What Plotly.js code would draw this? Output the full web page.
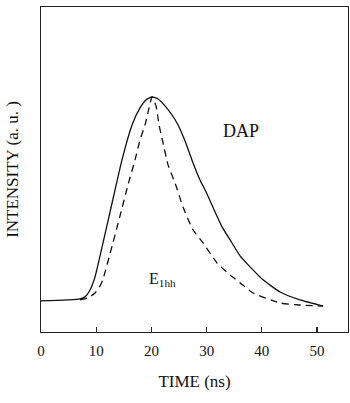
<!DOCTYPE html>
<html>
<head>
<meta charset="utf-8">
<script src="https://cdn.plot.ly/plotly-3.0.1.min.js"></script>
<style>html,body{margin:0;padding:0;background:#fff;}#chart{width:350px;height:403px;}</style>
</head>
<body>
<div id="chart"></div>
<script>
// DAP (solid) curve
const dapTime = [0, 7.07, 7.97, 8.88, 9.78, 10.69, 12.50, 14.67, 16.49, 17.93, 19.02, 20.11, 21.20, 22.46, 23.73, 24.82, 26.09, 27.54, 28.80, 30.07, 31.52, 32.79, 34.24, 36.05, 37.86, 40.22, 43.30, 46.92, 51.09];
const dapIntensity = [-0.005, 0.005, 0.015, 0.049, 0.113, 0.217, 0.433, 0.690, 0.862, 0.946, 0.985, 1.000, 0.990, 0.956, 0.911, 0.862, 0.783, 0.675, 0.591, 0.522, 0.433, 0.360, 0.296, 0.217, 0.163, 0.099, 0.039, 0.000, -0.030];
// E1hh (dashed) curve
const e1hhTime = [7.07, 8.51, 9.78, 10.69, 11.23, 12.50, 14.31, 15.76, 17.03, 17.93, 18.84, 19.57, 20.11, 20.83, 21.38, 22.10, 23.01, 24.28, 25.72, 27.54, 29.35, 31.88, 34.24, 36.05, 38.41, 43.30, 46.92, 51.09];
const e1hhIntensity = [0.000, 0.010, 0.034, 0.069, 0.103, 0.227, 0.414, 0.567, 0.690, 0.788, 0.862, 0.946, 1.000, 0.956, 0.862, 0.773, 0.665, 0.576, 0.458, 0.345, 0.281, 0.182, 0.123, 0.084, 0.034, -0.015, -0.025, -0.030];
const xTicks = [0, 10, 20, 30, 40, 50];

const serif = '"Liberation Serif", "DejaVu Serif", serif';
const ink = '#111';

const traces = [
  {x: dapTime, y: dapIntensity, mode: 'lines', line: {color: ink, width: 1.3, shape: 'spline', smoothing: 0.5}, hoverinfo: 'skip'},
  {x: e1hhTime, y: e1hhIntensity, mode: 'lines', line: {color: ink, width: 1.3, dash: '7px,5px', shape: 'spline', smoothing: 0.5}, hoverinfo: 'skip'}
];

const layout = {
  width: 350, height: 403,
  margin: {l: 41, r: 2, t: 7, b: 71},
  paper_bgcolor: '#fff', plot_bgcolor: '#fff',
  showlegend: false,
  font: {family: serif, color: ink},
  xaxis: {
    range: [0, 55.6], tickvals: xTicks, ticktext: xTicks.map(String),
    ticks: 'inside', ticklen: 5, tickcolor: '#222', tickwidth: 1.2,
    showgrid: false, zeroline: false,
    showline: true, mirror: true, linecolor: '#222', linewidth: 1.2,
    tickfont: {family: serif, size: 15, color: ink},
    ticklabelstandoff: 5,
    title: {text: 'TIME (ns)', font: {family: serif, size: 17, color: ink}, standoff: 16}
  },
  yaxis: {
    range: [-0.158, 1.443],
    showticklabels: false, ticks: '',
    showgrid: false, zeroline: false,
    showline: true, mirror: true, linecolor: '#222', linewidth: 1.2,
    title: {text: 'INTENSITY (a. u. )', font: {family: serif, size: 17, color: ink}, standoff: 16}
  },
  annotations: [
    {x: 36.3, y: 0.83, xref: 'x', yref: 'y', text: 'DAP', showarrow: false, font: {family: serif, size: 18, color: ink}},
    {x: 22.0, y: 0.10, xref: 'x', yref: 'y', text: 'E<sub>1hh</sub>', showarrow: false, font: {family: serif, size: 16, color: ink}}
  ]
};

Plotly.newPlot('chart', traces, layout, {staticPlot: true, displayModeBar: false});
</script>
</body>
</html>
